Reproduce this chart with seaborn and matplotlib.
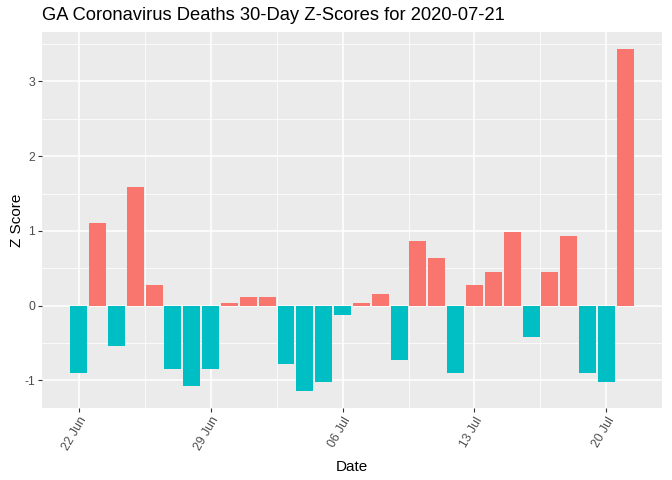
import pandas as pd
import numpy as np
import matplotlib
matplotlib.use("Agg")
import matplotlib.pyplot as plt
import matplotlib.dates as mdates
from matplotlib.ticker import MultipleLocator, FixedLocator
import seaborn as sns

dates = pd.date_range("2020-06-22", "2020-07-21", freq="D")
z_scores = [-0.90, 1.11, -0.54, 1.59, 0.28, -0.85, -1.08, -0.85, 0.04, 0.11,
            0.11, -0.78, -1.14, -1.02, -0.13, 0.04, 0.16, -0.73, 0.87, 0.64,
            -0.90, 0.28, 0.45, 0.99, -0.42, 0.45, 0.93, -0.90, -1.02, 3.43]

df = pd.DataFrame({"date": dates, "z": z_scores})
df["x"] = mdates.date2num(df["date"])
df["sign"] = np.where(df["z"] > 0, "pos", "neg")

sns.set_theme(style="darkgrid", rc={
    "axes.facecolor": "#EBEBEB",
    "grid.color": "white",
    "axes.edgecolor": "white",
    "xtick.bottom": True,
    "ytick.left": True,
    "axes.unicode_minus": False,
})
plt.rcParams["font.family"] = ["Liberation Sans", "DejaVu Sans"]

fig = plt.figure(figsize=(6.72, 4.80), dpi=100)
ax = fig.add_axes([0.0625, 0.15, 0.9225, 0.783])

sns.barplot(data=df, x="x", y="z", hue="sign", native_scale=True,
            palette={"pos": "#F8766D", "neg": "#00BFC4"}, dodge=False,
            width=0.9, legend=False, saturation=1, linewidth=0,
            edgecolor="none", ax=ax)

for s in ax.spines.values():
    s.set_visible(False)

x0 = df["x"].min() - 0.45
x1 = df["x"].max() + 0.45
pad = (x1 - x0) * 0.05
ax.set_xlim(x0 - pad, x1 + pad)
ylo, yhi = min(z_scores), max(z_scores)
ypad = (yhi - ylo) * 0.05
ax.set_ylim(ylo - ypad, yhi + ypad)

week_ticks = mdates.date2num(pd.date_range("2020-06-22", "2020-07-20", freq="7D"))
ax.xaxis.set_major_locator(FixedLocator(week_ticks))
ax.xaxis.set_minor_locator(FixedLocator(np.concatenate([[week_ticks[0] - 3.5], week_ticks + 3.5])))
ax.xaxis.set_major_formatter(mdates.DateFormatter("%d %b"))
ax.yaxis.set_major_locator(MultipleLocator(1))
ax.yaxis.set_minor_locator(MultipleLocator(0.5))

ax.grid(which="major", color="white", linewidth=1.1)
ax.grid(which="minor", color="white", linewidth=0.55)
ax.set_axisbelow(True)

ax.tick_params(which="major", length=3, width=0.8, color="#333333",
               labelsize=8.8, labelcolor="#4D4D4D", pad=2)
ax.tick_params(which="minor", length=0)
for lbl in ax.get_xticklabels():
    lbl.set_rotation(60)
    lbl.set_ha("right")
    lbl.set_va("top")
    lbl.set_rotation_mode("anchor")

ax.set_xlabel("Date", fontsize=11, color="black", labelpad=5)
ax.set_ylabel("Z Score", fontsize=11, color="black", labelpad=0)
ax.set_title("GA Coronavirus Deaths 30-Day Z-Scores for 2020-07-21",
             loc="left", fontsize=13.2, color="black", pad=9)

fig.savefig("out.png", dpi=100)
